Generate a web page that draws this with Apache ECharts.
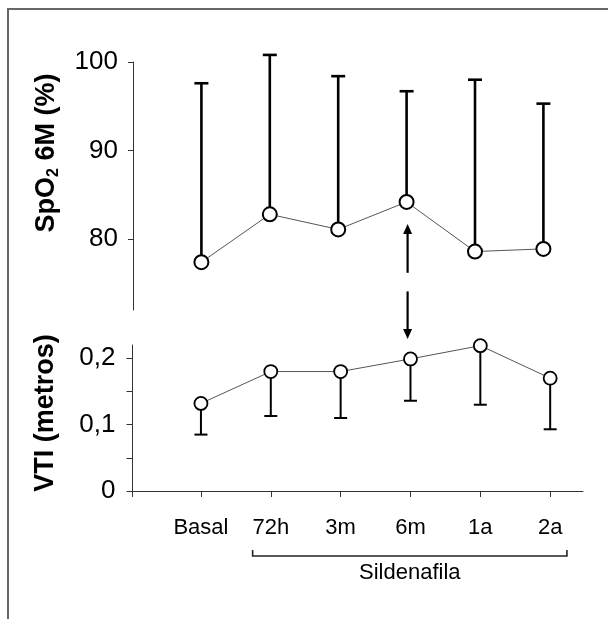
<!DOCTYPE html>
<html>
<head>
<meta charset="utf-8">
<script src="https://cdn.jsdelivr.net/npm/echarts@6/dist/echarts.min.js"></script>
<style>
html,body{margin:0;padding:0;background:#fff;}
#chart{width:608px;height:619px;}
</style>
</head>
<body>
<div id="chart"></div>
<script>
const categories = ['Basal', '72h', '3m', '6m', '1a', '2a'];
const spo2Mean = [77.4, 82.8, 81.1, 84.2, 78.6, 78.9];
const spo2Upper = [97.6, 100.8, 98.4, 96.7, 98.0, 95.3];
const vtiMean = [0.132, 0.180, 0.180, 0.199, 0.219, 0.170];
const vtiLower = [0.085, 0.113, 0.110, 0.136, 0.130, 0.093];
const spo2Ticks = [80, 90, 100];
const vtiTicks = [0, 0.05, 0.1, 0.15, 0.2];
const vtiLabels = [0, 0.1, 0.2];
const groupLabel = 'Sildenafila';

const FONT = '"Liberation Sans", Arial, sans-serif';
const xMinTop = -1, xMaxTop = 5.45;
const xMinBot = -0.98, xMaxBot = 5.47;

const chart = echarts.init(document.getElementById('chart'), null, {renderer: 'canvas'});

function errBar(dataArr, lw, cap) {
  return function (params, api) {
    const x = api.value(0);
    const p0 = api.coord([x, api.value(1)]);
    const p1 = api.coord([x, api.value(2)]);
    const st = {stroke: '#000', lineWidth: lw};
    return {
      type: 'group',
      children: [
        {type: 'line', shape: {x1: p0[0], y1: p0[1], x2: p1[0], y2: p1[1]}, style: st},
        {type: 'line', shape: {x1: p1[0] - cap / 2, y1: p1[1], x2: p1[0] + cap / 2, y2: p1[1]}, style: st}
      ]
    };
  };
}

const option = {
  animation: false,
  backgroundColor: '#fff',
  grid: [
    {left: 133, top: 62, width: 68.4 * (xMaxTop - xMinTop), height: 248},
    {left: 132.5, top: 345, right: 25, height: 146}
  ],
  xAxis: [
    {gridIndex: 0, type: 'value', min: xMinTop, max: xMaxTop, show: false},
    {
      gridIndex: 1, type: 'value', min: xMinBot, max: xMaxBot,
      axisLine: {show: true, onZero: false, lineStyle: {color: '#333', width: 1}},
      splitLine: {show: false},
      axisTick: {show: true, inside: false, length: 6, customValues: [xMinBot, 0, 1, 2, 3, 4, 5], lineStyle: {color: '#333'}},
      axisLabel: {
        customValues: [0, 1, 2, 3, 4, 5], margin: 26,
        color: '#000', fontSize: 22, fontFamily: FONT,
        formatter: v => categories[Math.round(v)]
      }
    }
  ],
  yAxis: [
    {
      gridIndex: 0, type: 'value', min: 72, max: 100,
      axisLine: {show: true, onZero: false, lineStyle: {color: '#333', width: 1}},
      splitLine: {show: false},
      axisTick: {show: true, length: 5, customValues: spo2Ticks, lineStyle: {color: '#333'}},
      axisLabel: {customValues: spo2Ticks, margin: 15, color: '#000', fontSize: 26, fontFamily: FONT}
    },
    {
      gridIndex: 1, type: 'value', min: 0, max: 0.22,
      axisLine: {show: true, onZero: false, lineStyle: {color: '#333', width: 1}},
      splitLine: {show: false},
      axisTick: {show: true, length: 6, customValues: vtiTicks, lineStyle: {color: '#333'}},
      axisLabel: {
        customValues: vtiLabels, margin: 17, color: '#000', fontSize: 26, fontFamily: FONT,
        formatter: v => String(Math.round(v * 10) / 10).replace('.', ',')
      }
    }
  ],
  series: [
    {
      type: 'custom', xAxisIndex: 0, yAxisIndex: 0, z: 1,
      renderItem: errBar(spo2Upper, 2.6, 14),
      data: spo2Mean.map((v, i) => [i, v, spo2Upper[i]])
    },
    {
      type: 'line', xAxisIndex: 0, yAxisIndex: 0, z: 3,
      data: spo2Mean.map((v, i) => [i, v]),
      lineStyle: {color: '#555', width: 1},
      symbol: 'circle', symbolSize: 14,
      itemStyle: {color: '#fff', borderColor: '#000', borderWidth: 2}
    },
    {
      type: 'custom', xAxisIndex: 1, yAxisIndex: 1, z: 1,
      renderItem: errBar(vtiLower, 2, 13),
      data: vtiMean.map((v, i) => [i, v, vtiLower[i]])
    },
    {
      type: 'line', xAxisIndex: 1, yAxisIndex: 1, z: 3,
      data: vtiMean.map((v, i) => [i, v]),
      lineStyle: {color: '#555', width: 1},
      symbol: 'circle', symbolSize: 13,
      itemStyle: {color: '#fff', borderColor: '#000', borderWidth: 1.8}
    }
  ]
};
chart.setOption(option);

// annotations positioned through the axes
const pUpFrom = chart.convertToPixel({gridIndex: 0}, [3, 76.2]);
const pUpTo = chart.convertToPixel({gridIndex: 0}, [3, 81.7]);
const pDnFrom = chart.convertToPixel({gridIndex: 0}, [3, 74.1]);
const pDnTo = chart.convertToPixel({gridIndex: 1}, [3, 0.229]);
const ax = pUpFrom[0] + 1;
const axisY = chart.convertToPixel({gridIndex: 1}, [0, 0])[1];
const bL = chart.convertToPixel({gridIndex: 1}, [0.74, 0])[0];
const bR = chart.convertToPixel({gridIndex: 1}, [5.24, 0])[0];
const head = 10, hw = 4.5;
const lineSt = {stroke: '#000', lineWidth: 2.2};

chart.setOption({
  graphic: [
    {type: 'polyline', shape: {points: [[8, 619], [8, 9], [608, 9]]}, style: {stroke: '#666', lineWidth: 2, fill: null}, silent: true},
    {
      type: 'text', x: 47, y: 153, rotation: Math.PI / 2,
      style: {
        text: '{a|SpO}{b|2}{a| 6M (%)}', align: 'center', verticalAlign: 'middle',
        rich: {
          a: {fontSize: 27, fontWeight: 'bold', fontFamily: FONT, fill: '#000'},
          b: {fontSize: 16, fontWeight: 'bold', fontFamily: FONT, fill: '#000', padding: [14, 0, 0, 0]}
        }
      }
    },
    {
      type: 'text', x: 46, y: 413, rotation: Math.PI / 2,
      style: {text: 'VTI (metros)', align: 'center', verticalAlign: 'middle', fontSize: 27, fontWeight: 'bold', fontFamily: FONT, fill: '#000'}
    },
    {type: 'line', shape: {x1: ax, y1: pUpFrom[1], x2: ax, y2: pUpTo[1] + head - 1}, style: lineSt},
    {type: 'polygon', shape: {points: [[ax, pUpTo[1]], [ax - hw, pUpTo[1] + head], [ax + hw, pUpTo[1] + head]]}, style: {fill: '#000'}},
    {type: 'line', shape: {x1: ax, y1: pDnFrom[1], x2: ax, y2: pDnTo[1] - head + 1}, style: lineSt},
    {type: 'polygon', shape: {points: [[ax, pDnTo[1]], [ax - hw, pDnTo[1] - head], [ax + hw, pDnTo[1] - head]]}, style: {fill: '#000'}},
    {type: 'polyline', shape: {points: [[bL, axisY + 59], [bL, axisY + 65], [bR, axisY + 65], [bR, axisY + 59]]}, style: {stroke: '#222', lineWidth: 1.6, fill: null}},
    {
      type: 'text', x: (bL + bR) / 2, y: axisY + 82,
      style: {text: groupLabel, align: 'center', verticalAlign: 'middle', fontSize: 22, fontFamily: FONT, fill: '#000'}
    }
  ]
});
</script>
</body>
</html>
